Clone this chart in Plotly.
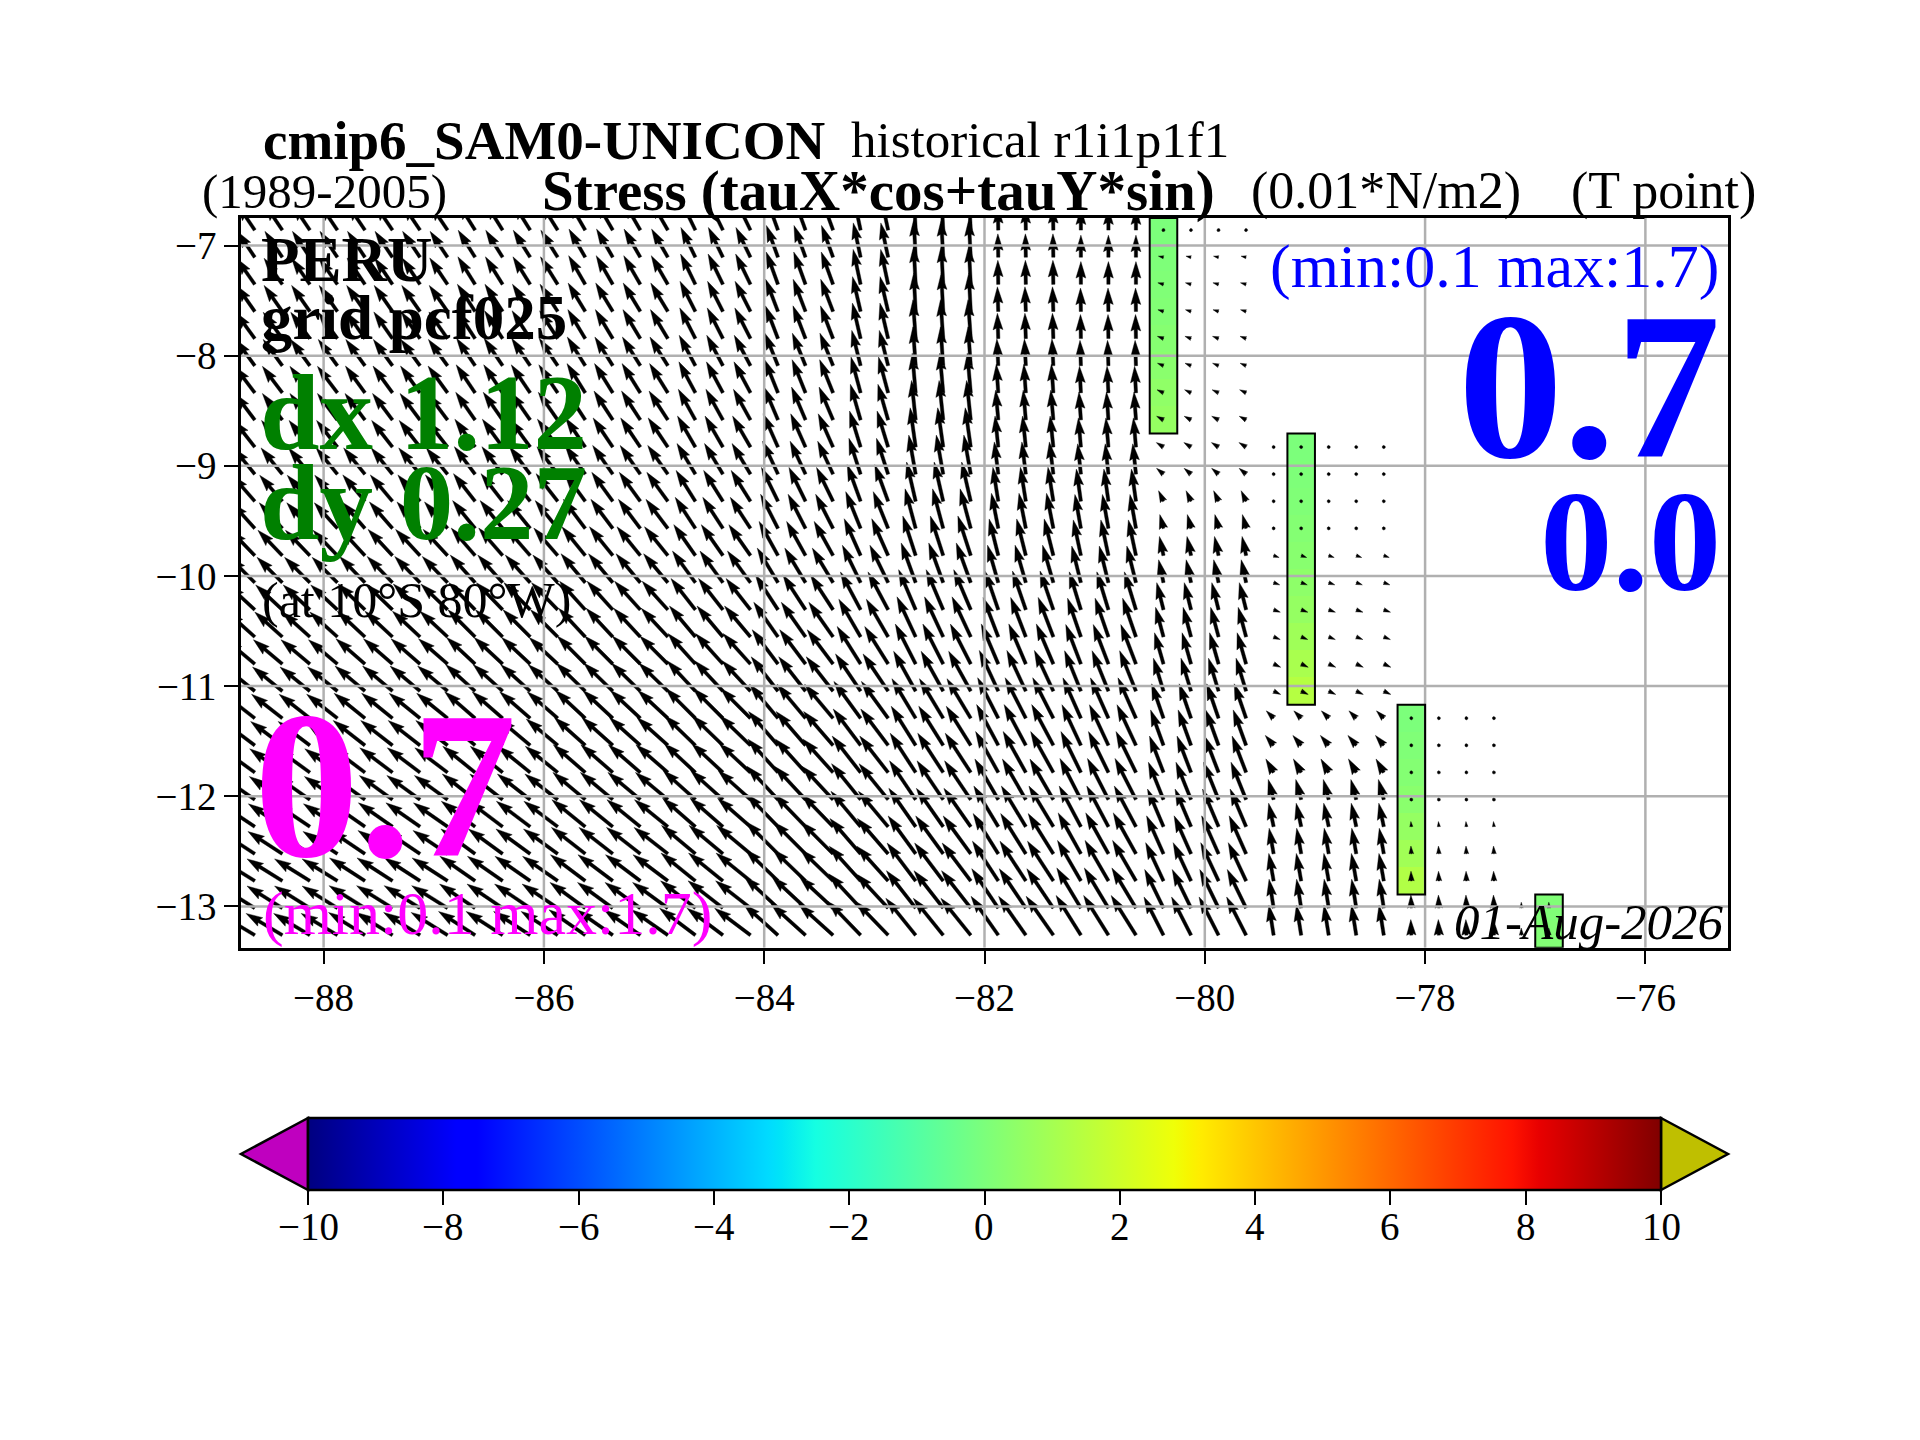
import numpy as np
import plotly.graph_objects as go

# ---------------- data ----------------
# model grid (pcf025): arrow tails
LON0, DLON, NCOL = -88.625, 0.25, 54
LAT0, DLAT, NROW = -6.86, 0.2462, 27
LONS = [LON0 + DLON * j for j in range(NCOL)]
LATS = [LAT0 - DLAT * i for i in range(NROW)]

# column groups (first col, last col) used by the tables below
COL_GROUPS = [(0, 3), (4, 7), (8, 11), (12, 15), (16, 18), (19, 21), (22, 23),
              (24, 26), (27, 29), (30, 32), (33, 36), (37, 41), (42, 45), (46, 47)]

N = None
# stress direction (deg, counter-clockwise from east), one row per model row
ANGLE = [
    [124, 124, 122, 120, 116, 110, 102, 93, 91, 90, 175, N, N, N],
    [124, 124, 122, 120, 116, 110, 102, 93, 91, 90, 168, N, N, N],
    [125, 124, 122, 120, 116, 110, 102, 93, 91, 90, 165, N, N, N],
    [125, 125, 123, 121, 117, 111, 103, 93, 92, 91, 163, N, N, N],
    [126, 125, 123, 121, 117, 111, 103, 94, 92, 91, 160, N, N, N],
    [126, 126, 124, 122, 118, 112, 104, 94, 93, 92, 158, N, N, N],
    [127, 126, 124, 122, 118, 112, 105, 95, 94, 93, 155, N, N, N],
    [127, 127, 125, 123, 119, 113, 106, 96, 95, 94, 152, N, N, N],
    [128, 128, 126, 124, 120, 114, 107, 98, 96, 95, 148, 90, N, N],
    [129, 129, 127, 125, 121, 115, 108, 100, 97, 96, 140, 90, N, N],
    [131, 130, 128, 126, 122, 116, 110, 103, 99, 98, 115, 90, N, N],
    [132, 131, 129, 127, 123, 117, 112, 105, 101, 100, 105, 90, N, N],
    [134, 133, 131, 129, 125, 119, 114, 108, 104, 102, 102, -20, N, N],
    [135, 134, 132, 130, 126, 121, 116, 110, 106, 104, 102, -20, N, N],
    [137, 136, 134, 132, 128, 123, 118, 113, 109, 107, 104, -20, N, N],
    [138, 137, 135, 133, 130, 125, 120, 115, 111, 109, 105, -22, N, N],
    [140, 139, 137, 135, 132, 127, 122, 117, 113, 111, 106, -25, N, N],
    [141, 140, 138, 136, 133, 128, 124, 119, 115, 112, 107, -25, N, N],
    [142, 141, 139, 137, 135, 130, 126, 121, 117, 114, 109, 135, 90, N],
    [143, 142, 140, 138, 136, 131, 127, 122, 118, 115, 110, 130, 90, N],
    [144, 143, 141, 139, 137, 132, 128, 123, 119, 116, 111, 120, 90, N],
    [145, 144, 142, 140, 138, 133, 129, 124, 120, 117, 112, 105, 90, N],
    [146, 145, 143, 141, 139, 134, 130, 125, 121, 118, 113, 102, 95, N],
    [147, 146, 144, 142, 140, 135, 131, 126, 122, 119, 114, 100, 93, N],
    [148, 147, 145, 143, 141, 136, 132, 127, 123, 120, 115, 100, 92, N],
    [148, 148, 146, 144, 142, 137, 133, 128, 124, 121, 116, 99, 92, 92],
    [149, 148, 147, 145, 143, 138, 134, 129, 125, 122, 117, 99, 92, 92],
]
# stress magnitude (0.01*N/m2)
MAGN = [
    [4.8, 4.8, 4.9, 5.0, 5.1, 5.2, 5.4, 5.8, 3.6, 3.4, 0.2, N, N, N],
    [4.8, 4.8, 4.9, 5.0, 5.1, 5.2, 5.4, 5.8, 3.6, 3.4, 0.8, N, N, N],
    [4.9, 4.9, 5.0, 5.1, 5.2, 5.3, 5.5, 5.9, 3.7, 3.5, 0.9, N, N, N],
    [4.9, 4.9, 5.0, 5.1, 5.2, 5.3, 5.5, 5.9, 3.8, 3.6, 0.9, N, N, N],
    [5.0, 5.0, 5.1, 5.2, 5.3, 5.4, 5.6, 6.0, 3.9, 3.7, 1.0, N, N, N],
    [5.0, 5.0, 5.1, 5.2, 5.3, 5.4, 5.6, 6.0, 4.1, 3.9, 1.0, N, N, N],
    [5.1, 5.1, 5.2, 5.3, 5.4, 5.5, 5.7, 6.1, 4.4, 4.1, 1.1, N, N, N],
    [5.1, 5.1, 5.2, 5.3, 5.4, 5.5, 5.7, 6.1, 4.6, 4.3, 1.2, N, N, N],
    [5.2, 5.2, 5.3, 5.4, 5.5, 5.6, 5.8, 6.1, 4.8, 4.5, 1.3, 0.2, N, N],
    [5.2, 5.2, 5.3, 5.4, 5.5, 5.6, 5.8, 6.1, 5.0, 4.7, 1.4, 0.2, N, N],
    [5.3, 5.3, 5.4, 5.5, 5.6, 5.8, 6.0, 6.2, 5.3, 5.0, 1.8, 0.2, N, N],
    [5.3, 5.4, 5.5, 5.6, 5.7, 5.9, 6.1, 6.3, 5.5, 5.3, 2.2, 0.2, N, N],
    [5.4, 5.5, 5.6, 5.7, 5.8, 6.0, 6.2, 6.4, 5.8, 5.6, 3.0, 0.9, N, N],
    [5.5, 5.6, 5.7, 5.8, 6.0, 6.2, 6.4, 6.5, 6.0, 5.8, 3.6, 1.0, N, N],
    [5.6, 5.7, 5.8, 5.9, 6.1, 6.4, 6.6, 6.7, 6.3, 6.1, 4.3, 1.1, N, N],
    [5.7, 5.8, 5.9, 6.0, 6.2, 6.5, 6.7, 6.8, 6.5, 6.3, 4.7, 1.1, N, N],
    [5.8, 5.9, 6.0, 6.1, 6.3, 6.6, 6.8, 6.9, 6.7, 6.5, 5.0, 1.2, N, N],
    [5.9, 6.0, 6.1, 6.2, 6.4, 6.7, 6.9, 7.0, 6.9, 6.7, 5.3, 1.2, N, N],
    [6.0, 6.1, 6.2, 6.3, 6.5, 6.8, 7.0, 7.1, 7.0, 6.8, 5.6, 1.6, 0.2, N],
    [6.1, 6.2, 6.3, 6.4, 6.6, 6.9, 7.0, 7.1, 7.1, 6.9, 5.8, 2.0, 0.3, N],
    [6.2, 6.3, 6.4, 6.5, 6.6, 6.9, 7.1, 7.2, 7.2, 7.0, 6.0, 2.4, 0.2, N],
    [6.2, 6.3, 6.4, 6.5, 6.7, 7.0, 7.1, 7.2, 7.2, 7.1, 6.2, 3.2, 0.2, N],
    [6.3, 6.4, 6.5, 6.6, 6.7, 7.0, 7.1, 7.2, 7.3, 7.1, 6.3, 3.7, 0.8, N],
    [6.3, 6.4, 6.5, 6.6, 6.8, 7.0, 7.2, 7.2, 7.3, 7.2, 6.4, 4.0, 1.2, N],
    [6.4, 6.5, 6.6, 6.7, 6.8, 7.0, 7.2, 7.3, 7.3, 7.2, 6.5, 4.3, 1.5, N],
    [6.4, 6.5, 6.6, 6.7, 6.8, 7.1, 7.2, 7.3, 7.3, 7.2, 6.6, 4.5, 2.0, 0.9],
    [6.5, 6.6, 6.7, 6.8, 6.9, 7.1, 7.2, 7.3, 7.3, 7.2, 6.6, 4.7, 2.4, 1.1],
]

# coloured coastal cells
BAR_COL = [33, 38, 42, 47]
BAR_ROW0 = [0, 8, 18, 25]
BAR_VALS = [
    [0.0, 0.05, 0.1, 0.15, 0.25, 0.35, 0.5, 0.6],
    [0.0, 0.05, 0.1, 0.2, 0.3, 0.45, 0.6, 0.85, 1.1, 1.4],
    [0.0, 0.1, 0.2, 0.35, 0.6, 0.9, 1.3],
    [0.1, 0.15],
]

XTICKS = [-88, -86, -84, -82, -80, -78, -76]
YTICKS = [-13, -12, -11, -10, -9, -8, -7]
CB_TICKS = [-10, -8, -6, -4, -2, 0, 2, 4, 6, 8, 10]

# ---------------- geometry ----------------
W, H = 1920, 1440
OFF = 8.0   # page margin of the browser body
PX_L, PX_R, PX_T, PX_B = 241.0, 1728.0, 218.0, 947.7
XR = [-88.75, -75.25]
YR = [-13.375, -6.75]
PPX = (PX_R - PX_L) / (XR[1] - XR[0])
PPY = (PX_B - PX_T) / (YR[1] - YR[0])
SERIF = "Liberation Serif"


def fx(x):
    return (x - OFF) / W


def fy(y):
    return 1 - (y - OFF) / H


# quiver style (matplotlib-like)
SHAFT = 3.3       # px
HEADW, HEADL, HEADAXL = 3.0, 5.0, 4.5
SCALE_PX = 6.5    # px per unit


def arrow_shape(Lw):
    if Lw < 1.0:
        th = np.arange(8) * np.pi / 3.0
        return 0.5 * np.cos(th), 0.5 * np.sin(th)
    if Lw < HEADL:
        L = HEADL
        s = Lw / HEADL
    else:
        L = Lw
        s = 1.0
    xs = np.array([0, L - HEADAXL, L - HEADL, L, L - HEADL, L - HEADAXL, 0, 0]) * s
    ys = np.array([0.5, 0.5, HEADW / 2, 0, -HEADW / 2, -0.5, -0.5, 0.5]) * s
    return xs, ys


ax_, ay_ = [], []
for i in range(NROW):
    for g, (c0, c1) in enumerate(COL_GROUPS):
        ang = ANGLE[i][g]
        mag = MAGN[i][g]
        if ang is None:
            continue
        for j in range(c0, c1 + 1):
            Lw = mag * SCALE_PX / SHAFT
            xs, ys = arrow_shape(Lw)
            a = np.deg2rad(ang)
            px = (xs * np.cos(a) - ys * np.sin(a)) * SHAFT
            py = (xs * np.sin(a) + ys * np.cos(a)) * SHAFT
            ax_.extend(list(LONS[j] + px / PPX) + [None])
            ay_.extend(list(LATS[i] + py / PPY) + [None])

# jet colormap
JET_R = [(0, 0), (0.35, 0), (0.66, 1), (0.89, 1), (1, 0.5)]
JET_G = [(0, 0), (0.125, 0), (0.375, 1), (0.64, 1), (0.91, 0), (1, 0)]
JET_B = [(0, 0.5), (0.11, 1), (0.34, 1), (0.65, 0), (1, 0)]
stops = sorted({p for seg in (JET_R, JET_G, JET_B) for p, _ in seg})


def _c(seg, s):
    return np.interp(s, [p for p, _ in seg], [v for _, v in seg])


JET = [[s, "rgb(%d,%d,%d)" % (round(255 * _c(JET_R, s)), round(255 * _c(JET_G, s)),
                               round(255 * _c(JET_B, s)))] for s in stops]

Z = [[None] * NCOL for _ in range(NROW)]
for c, r0, vals in zip(BAR_COL, BAR_ROW0, BAR_VALS):
    for k, v in enumerate(vals):
        Z[r0 + k][c] = v

CB_L, CB_R, CB_T, CB_B = 308.0, 1661.0, 1118.0, 1190.0

fig = go.Figure()
fig.add_trace(go.Heatmap(
    x=LONS, y=LATS, z=Z, zmin=-10, zmax=10, colorscale=JET, hoverinfo="skip",
    colorbar=dict(orientation="h", lenmode="pixels", len=CB_R - CB_L,
                  thicknessmode="pixels", thickness=CB_B - CB_T,
                  x=fx((CB_L + CB_R) / 2), xanchor="center",
                  y=fy(CB_T), yanchor="top", xpad=0, ypad=0,
                  outlinewidth=2.5, outlinecolor="black",
                  tickvals=CB_TICKS, showticklabels=False,
                  ticks="outside", ticklen=14, tickwidth=2, tickcolor="black")))
fig.add_trace(go.Scatter(x=ax_, y=ay_, mode="lines", fill="toself", fillcolor="black",
                         line=dict(color="black", width=0.4), hoverinfo="skip"))

shapes = []
for xv in XTICKS:
    shapes.append(dict(type="line", xref="x", yref="y", x0=xv, x1=xv, y0=YR[0], y1=YR[1],
                       line=dict(color="#b0b0b0", width=2.5), layer="above"))
for yv in YTICKS:
    shapes.append(dict(type="line", xref="x", yref="y", x0=XR[0], x1=XR[1], y0=yv, y1=yv,
                       line=dict(color="#b0b0b0", width=2.5), layer="above"))
for c, r0, vals in zip(BAR_COL, BAR_ROW0, BAR_VALS):
    r1 = r0 + len(vals) - 1
    ytop = min(LATS[r0] + DLAT / 2, YR[1])
    ybot = max(LATS[r1] - DLAT / 2, YR[0])
    shapes.append(dict(type="rect", xref="x", yref="y", x0=LONS[c] - DLON / 2, x1=LONS[c] + DLON / 2,
                       y0=ybot, y1=ytop, line=dict(color="black", width=2), layer="above"))
# colorbar extension triangles
mid = (CB_T + CB_B) / 2


def P(x, y):
    return "%f,%f" % (fx(x), fy(y))


shapes.append(dict(type="path", xref="paper", yref="paper",
                   path="M%s L%s L%s Z" % (P(CB_L, CB_T), P(PX_L, mid), P(CB_L, CB_B)),
                   fillcolor="#bf00bf", line=dict(color="black", width=2.5)))
shapes.append(dict(type="path", xref="paper", yref="paper",
                   path="M%s L%s L%s Z" % (P(CB_R, CB_T), P(PX_R, mid), P(CB_R, CB_B)),
                   fillcolor="#bfbf00", line=dict(color="black", width=2.5)))

ann = []


def T(text, x, y, size, color="black", xanchor="left", yanchor="middle"):
    ann.append(dict(text=text, x=fx(x), y=fy(y), xref="paper", yref="paper",
                    xanchor=xanchor, yanchor=yanchor, showarrow=False,
                    font=dict(family=SERIF, size=size, color=color)))


def minus(v):
    return str(v).replace("-", "\u2212")


# colorbar tick labels
for t in CB_TICKS:
    T(minus(t), CB_L + (t - CB_TICKS[0]) / (CB_TICKS[-1] - CB_TICKS[0]) * (CB_R - CB_L),
      1226, 39, xanchor="center")

T("<b>cmip6_SAM0-UNICON</b>", 261, 140, 55)
T("historical r1i1p1f1", 1231, 140, 51, xanchor="right")
T("(1989-2005)", 200, 191, 49)
T("<b>Stress (tauX*cos+tauY*sin)</b>", 540, 191, 57)
T("(0.01*N/m2)", 1523, 191, 52, xanchor="right")
T("(T point)", 1758, 191, 52, xanchor="right")
T("<b>PERU</b>", 259, 260, 63)
T("<b>grid pcf025</b>", 259, 318, 63)
T("<b>dx 1.12</b>", 258, 413, 107, color="#008000")
T("<b>dy 0.27</b>", 258, 503, 107, color="#008000")
T("(at 10\u00b0S 80\u00b0W)", 260, 600, 50)
T("<b>0.7</b>", 252, 785, 210, color="#ff00ff")
T("(min:0.1 max:1.7)", 261, 913, 62, color="#ff00ff")
T("(min:0.1 max:1.7)", 1721, 266, 62, color="#0000ff", xanchor="right")
T("<b>0.7</b>", 1723, 386, 210, color="#0000ff", xanchor="right")
T("<b>0.0</b>", 1723, 541, 145, color="#0000ff", xanchor="right")
T("<i>01-Aug-2026</i>", 1726, 922, 51, xanchor="right")

axcommon = dict(showgrid=False, zeroline=False, showline=True, linecolor="black", linewidth=2.5,
                mirror=True, ticks="outside", ticklen=14, tickwidth=2, tickcolor="black",
                tickfont=dict(family=SERIF, size=39, color="black"))
fig.update_layout(
    width=W, height=H, margin=dict(l=0, r=0, t=0, b=0),
    paper_bgcolor="white", plot_bgcolor="white", showlegend=False,
    xaxis=dict(domain=[fx(PX_L), fx(PX_R)], range=XR, tickvals=XTICKS,
               ticktext=[minus(t) for t in XTICKS], **axcommon),
    yaxis=dict(domain=[fy(PX_B), fy(PX_T)], range=YR, tickvals=YTICKS,
               ticktext=[minus(t) for t in YTICKS], **axcommon),
    shapes=shapes, annotations=ann,
)
fig.write_html("out.html")
